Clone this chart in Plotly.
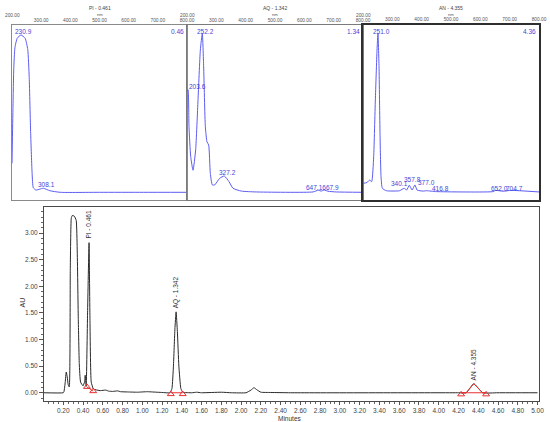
import plotly.graph_objects as go

# ---------------- Chromatogram data ----------------
time_min = [0.0, 0.20, 0.207, 0.22, 0.23, 0.24, 0.25, 0.261, 0.271, 0.281, 0.291, 0.311, 0.331,
            0.341, 0.352, 0.362, 0.375, 0.40, 0.415, 0.422, 0.432, 0.446, 0.461, 0.47, 0.483,
            0.506, 0.574, 0.63, 0.66, 0.70, 0.75, 0.78, 0.85, 0.95, 1.05, 1.10, 1.20, 1.28,
            1.30, 1.315, 1.33, 1.342, 1.355, 1.37, 1.39, 1.41, 1.50, 1.55, 1.60, 1.80, 1.90,
            2.05, 2.10, 2.13, 2.16, 2.20, 2.30, 2.50, 4.20, 4.278, 4.355, 4.445, 4.60, 5.0]
au = [0.0, 0.0, 0.02, 0.2, 0.39, 0.3, 0.15, 0.11, 2.3, 3.28, 3.33, 3.32, 3.24,
      2.7, 1.4, 0.55, 0.2, 0.13, 0.2, 0.33, 0.12, 1.5, 2.82, 1.4, 0.2,
      0.07, 0.04, 0.05, 0.03, 0.025, 0.035, 0.02, 0.015, 0.01, 0.02, 0.015, 0.005, 0.0,
      0.08, 0.5, 1.2, 1.52, 1.15, 0.5, 0.08, 0.01, 0.0, 0.01, 0.0, 0.01, 0.0,
      0.0, 0.05, 0.095, 0.055, 0.01, 0.005, 0.0, 0.0, 0.0, 0.17, 0.0, 0.0, 0.0]

peak_names = ["PI", "AQ", "AN"]
peak_rt = [0.461, 1.342, 4.355]
peak_apex_au = [2.82, 1.52, 0.17]
peak_start = [0.44, 1.288, 4.227]
peak_start_au = [0.11, -0.025, -0.03]
peak_end = [0.503, 1.409, 4.48]
peak_end_au = [0.03, -0.025, -0.03]

x_ticks = [round(0.2 * i, 2) for i in range(1, 26)]
y_ticks = [0.0, 0.5, 1.0, 1.5, 2.0, 2.5, 3.0]

# ---------------- UV spectra data ----------------
pi_nm = [200, 203, 206, 210, 218, 231, 245, 254, 259, 264, 269, 273, 282, 295, 308, 330, 365, 500, 650, 800]
pi_abs = [0.21, 0.5, 0.75, 0.87, 0.925, 0.943, 0.924, 0.86, 0.70, 0.38, 0.15, 0.07, 0.057, 0.062,
          0.067, 0.053, 0.044, 0.044, 0.044, 0.044]
pi_labels = ["230.9", "308.1"]
pi_label_nm = [204, 281]
pi_label_y = [0.965, 0.086]

aq_nm = [200, 203.6, 206.8, 212.5, 220.5, 229.5, 237.5, 245.5, 252.2, 256.8, 262.5, 268, 273.9,
         279.5, 286.4, 294.3, 311.4, 327.2, 343.2, 356.8, 385.2, 436.4, 629.5, 647.1, 657, 667.9,
         680.7, 709, 800]
aq_abs = [0.62, 0.63, 0.42, 0.25, 0.17, 0.286, 0.57, 0.857, 0.952, 0.76, 0.42, 0.333, 0.314,
          0.152, 0.086, 0.086, 0.124, 0.137, 0.105, 0.067, 0.051, 0.046, 0.046, 0.056, 0.051,
          0.057, 0.05, 0.046, 0.044]
aq_labels = ["203.6", "252.2", "327.2", "647.1667.9"]
aq_label_nm = [201, 228, 302, 598]
aq_label_y = [0.651, 0.965, 0.158, 0.072]

an_nm = [200, 213.7, 222.8, 229.6, 236.4, 242.1, 247.8, 251.0, 254.6, 258, 261.5, 266, 279.7,
         325, 340.1, 349, 357.8, 367.4, 377.0, 384.4, 405, 416.8, 450.5, 644, 652.0, 678,
         704.7, 800]
an_abs = [0.095, 0.10, 0.114, 0.105, 0.248, 0.571, 0.857, 0.952, 0.762, 0.38, 0.133, 0.067,
          0.053, 0.053, 0.067, 0.057, 0.084, 0.057, 0.086, 0.057, 0.051, 0.053, 0.048, 0.048,
          0.055, 0.05, 0.055, 0.046]
an_labels = ["340.1", "357.8", "377.0", "416.8", "652.0", "704.7", "251.0"]
an_label_nm = [289, 334, 380, 430, 629, 680, 226]
an_label_y = [0.095, 0.118, 0.1, 0.067, 0.067, 0.067, 0.965]

panel_titles = ["PI - 0.461", "AQ - 1.342", "AN - 4.355"]
panel_rt_text = ["0.46", "1.34", "4.36"]
wl_ticks = [300, 400, 500, 600, 700, 800]

W, H = 550, 422
FONT = "Liberation Sans, Arial, sans-serif"
BLUE_LINE = "#5c5cf2"
BLUE_TXT = "#4545d6"

fig = go.Figure()

# main chromatogram
fig.add_trace(go.Scatter(x=time_min, y=au, mode="lines",
                         line=dict(color="#2a2a2a", width=1, shape="spline", smoothing=0.4),
                         xaxis="x", yaxis="y", hoverinfo="skip"))

# integration marks
for i, name in enumerate(peak_names):
    fig.add_trace(go.Scatter(x=[peak_start[i], peak_end[i]],
                             y=[max(peak_start_au[i], 0), max(peak_end_au[i], 0)],
                             mode="lines", line=dict(color="#e83030", width=1),
                             xaxis="x", yaxis="y", hoverinfo="skip"))
    if peak_apex_au[i] < 0.5:
        seg_x = [t for t in time_min if peak_start[i] <= t <= peak_end[i]]
        seg_y = [a for t, a in zip(time_min, au) if peak_start[i] <= t <= peak_end[i]]
        fig.add_trace(go.Scatter(x=[peak_start[i]] + seg_x + [peak_end[i]], y=[0] + seg_y + [0],
                                 mode="lines", line=dict(color="#e83030", width=1),
                                 xaxis="x", yaxis="y", hoverinfo="skip"))
fig.add_trace(go.Scatter(x=peak_start + peak_end, y=peak_start_au + peak_end_au, mode="markers",
                         marker=dict(symbol="triangle-up-open", size=6, color="#e83030",
                                     line=dict(width=1, color="#e83030")),
                         xaxis="x", yaxis="y", hoverinfo="skip"))

# spectra
spectra = [(pi_nm, pi_abs), (aq_nm, aq_abs), (an_nm, an_abs)]
for k, (nm, ab) in enumerate(spectra):
    fig.add_trace(go.Scatter(x=nm, y=ab, mode="lines",
                             line=dict(color=BLUE_LINE, width=1, shape="spline", smoothing=0.5),
                             xaxis=f"x{k+2}", yaxis=f"y{k+2}", hoverinfo="skip"))

# geometry
main_x = [44 / W, 539 / W]
main_y = [1 - 401 / H, 1 - 207 / H]
panel_x = [[12 / W, 187 / W], [187 / W, 363 / W], [363 / W, 539 / W]]
panel_y = [1 - 200 / H, 1 - 25 / H]
frame_cols = ["#8a8a8a", "#7a7a7a", "#2f2f2f"]
frame_w = [1, 1, 1.6]

layout = dict(
    width=W, height=H, margin=dict(l=0, r=0, t=0, b=0),
    paper_bgcolor="white", plot_bgcolor="white", showlegend=False,
    font=dict(family=FONT, color="#333", size=7),
    xaxis=dict(domain=main_x, range=[0.005, 5.015], tickvals=x_ticks,
               ticktext=[f"{v:.2f}" for v in x_ticks], ticks="outside", ticklen=3,
               tickcolor="#555", tickfont=dict(size=6.5, color="#444"),
               minor=dict(ticks="outside", ticklen=2, dtick=0.05, tick0=0, tickcolor="#666"),
               showline=True, linecolor="#4a4a4a", linewidth=1, mirror=True,
               showgrid=False, zeroline=False, anchor="y", automargin=False),
    yaxis=dict(domain=main_y, range=[-0.155, 3.49], tickvals=y_ticks,
               ticktext=[f"{v:.2f}" for v in y_ticks], ticks="outside", ticklen=4,
               tickcolor="#555", tickfont=dict(size=6.5, color="#444"),
               minor=dict(ticks="outside", ticklen=2, dtick=0.1, tick0=0, tickcolor="#666"),
               showline=True, linecolor="#4a4a4a", linewidth=1, mirror=True,
               showgrid=False, zeroline=False, anchor="x", automargin=False),
)
for k in range(3):
    layout[f"xaxis{k+2}"] = dict(domain=panel_x[k], range=[200, 800], side="top", anchor=f"y{k+2}",
                                 tickvals=wl_ticks, ticktext=[f"{v:.2f}" for v in wl_ticks],
                                 ticks="", tickfont=dict(size=4.8, color="#555"),
                                 showline=True, linecolor=frame_cols[k], linewidth=frame_w[k],
                                 mirror=True, showgrid=False, zeroline=False, automargin=False)
    layout[f"yaxis{k+2}"] = dict(domain=panel_y, range=[0, 1], anchor=f"x{k+2}",
                                 showticklabels=False, ticks="",
                                 showline=True, linecolor=frame_cols[k], linewidth=frame_w[k],
                                 mirror=True, showgrid=False, zeroline=False, automargin=False)
fig.update_layout(**layout)

ann = []
label_sets = [(pi_labels, pi_label_nm, pi_label_y), (aq_labels, aq_label_nm, aq_label_y),
              (an_labels, an_label_nm, an_label_y)]
for k in range(3):
    cx = (panel_x[k][0] + panel_x[k][1]) / 2
    ann.append(dict(x=cx, y=1 - 8 / H, xref="paper", yref="paper", text=panel_titles[k],
                    xanchor="center", yanchor="middle",
                    showarrow=False, font=dict(size=5, color="#444")))
    ann.append(dict(x=cx, y=1 - 14.5 / H, xref="paper", yref="paper", text="nm",
                    xanchor="center", yanchor="middle",
                    showarrow=False, font=dict(size=4.2, color="#555")))
    ann.append(dict(x=200, y=1 - 15.5 / H, xref=f"x{k+2}", yref="paper", text="200.00",
                    xanchor="center", yanchor="middle",
                    showarrow=False, font=dict(size=4.8, color="#555")))
    ann.append(dict(x=797, y=0.965, xref=f"x{k+2}", yref=f"y{k+2}", text=panel_rt_text[k],
                    xanchor="right", yanchor="middle",
                    showarrow=False, font=dict(size=6.5, color=BLUE_TXT)))
    labs, lnm, ly = label_sets[k]
    for t, xv, yv in zip(labs, lnm, ly):
        ann.append(dict(x=xv, y=yv, xref=f"x{k+2}", yref=f"y{k+2}", text=t, xanchor="left",
                        yanchor="middle",
                        showarrow=False, font=dict(size=6.5, color=BLUE_TXT)))

for i, name in enumerate(peak_names):
    ann.append(dict(x=peak_rt[i], y=peak_apex_au[i] + 0.03, xref="x", yref="y",
                    text=f"{name} - {peak_rt[i]:.3f}", textangle=-90, yanchor="bottom",
                    xanchor="center", showarrow=False, font=dict(size=6.5, color="#333")))

ann.append(dict(x=21.5 / W, y=1 - 303 / H, xref="paper", yref="paper", text="AU", textangle=-90,
                xanchor="center", yanchor="middle",
                showarrow=False, font=dict(size=7, color="#333")))
ann.append(dict(x=290 / W, y=1 - 418 / H, xref="paper", yref="paper", text="Minutes",
                xanchor="center", yanchor="middle",
                showarrow=False, font=dict(size=6.5, color="#333")))
fig.update_layout(annotations=ann)

fig.write_html("out.html", config={"displayModeBar": False, "staticPlot": True},
               post_script="document.body.style.margin='0';document.body.style.padding='0';")
